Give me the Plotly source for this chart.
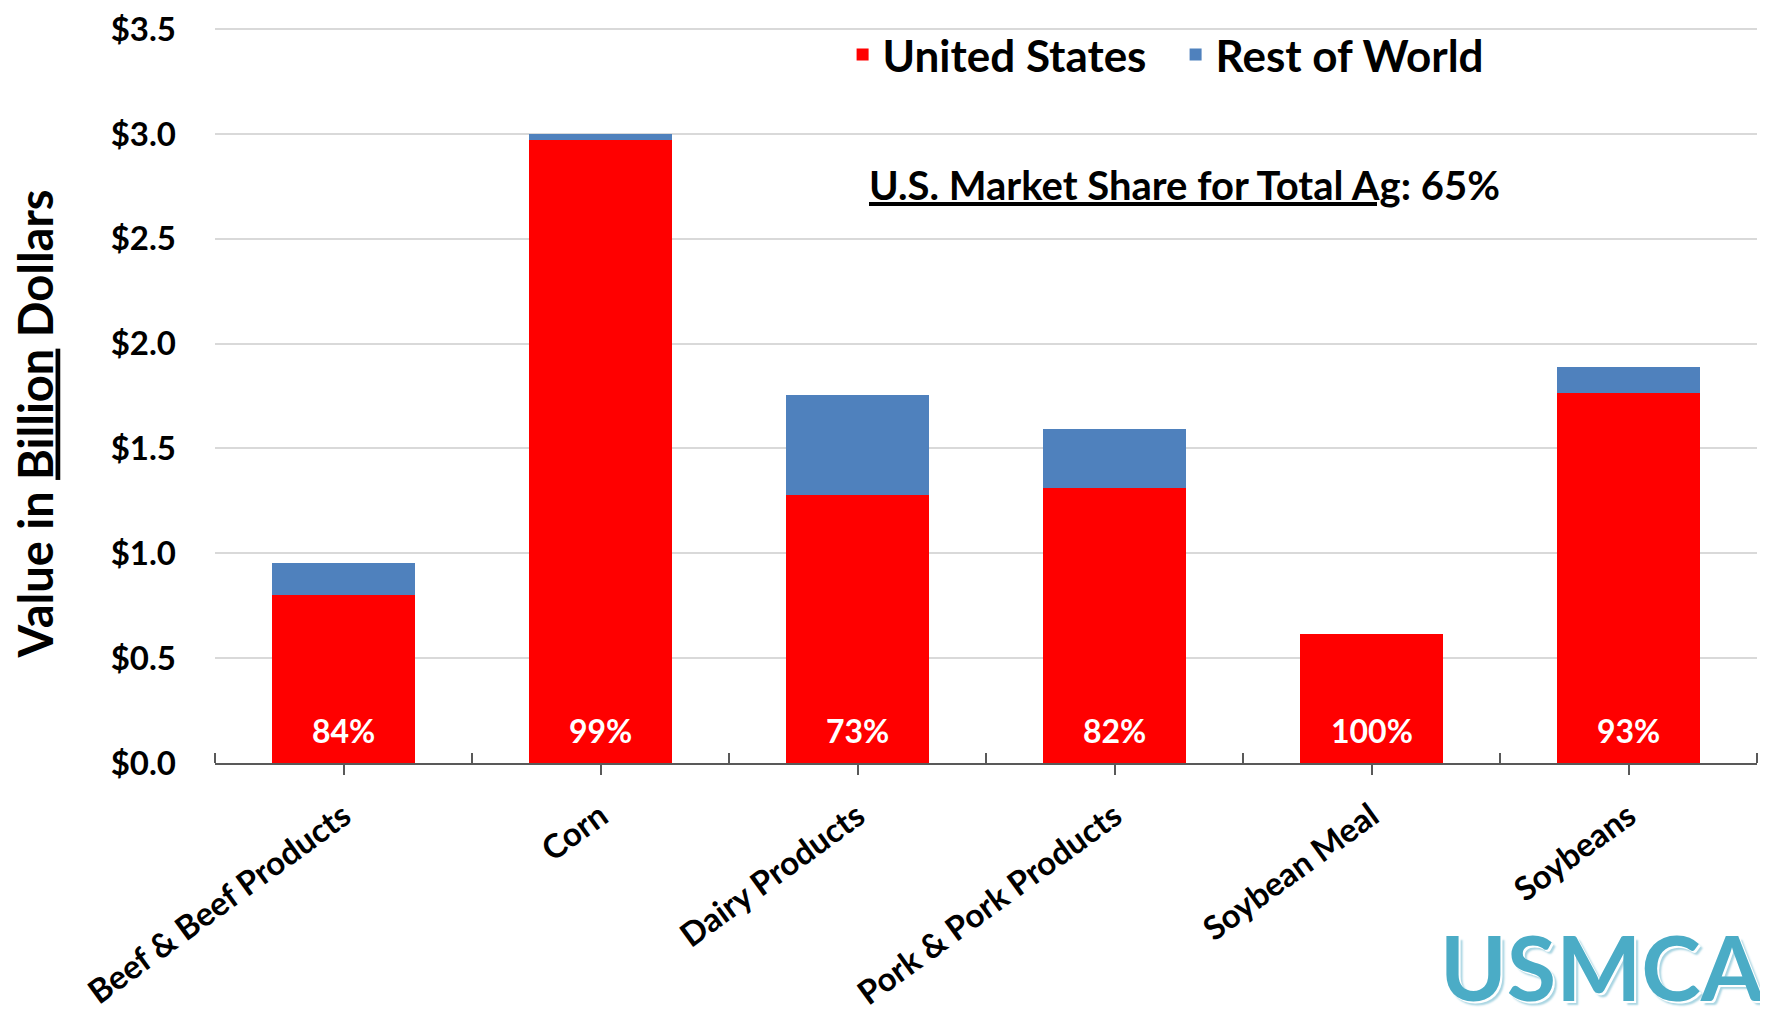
import plotly.graph_objects as go
import numpy as np

categories = ["Beef & Beef Products", "Corn", "Dairy Products",
              "Pork & Pork Products", "Soybean Meal", "Soybeans"]
us_values = [0.80, 2.97, 1.28, 1.31, 0.617, 1.765]
row_values = [0.155, 0.03, 0.475, 0.285, 0.0, 0.125]
us_share_labels = ["84%", "99%", "73%", "82%", "100%", "93%"]
y_tick_vals = [0.0, 0.5, 1.0, 1.5, 2.0, 2.5, 3.0, 3.5]
y_tick_text = ["$0.0", "$0.5", "$1.0", "$1.5", "$2.0", "$2.5", "$3.0", "$3.5"]

FONT = "Lato"
RED = "#FF0000"
BLUE = "#4F81BD"

x_pos = np.arange(len(categories))

fig = go.Figure()
fig.add_trace(go.Bar(x=x_pos, y=us_values, name="United States",
                     marker=dict(color=RED, line=dict(width=0))))
fig.add_trace(go.Bar(x=x_pos, y=row_values, name="Rest of World",
                     marker=dict(color=BLUE, line=dict(width=0))))

for xi, lab in zip(x_pos, us_share_labels):
    fig.add_annotation(x=xi, y=0, xref="x", yref="y", text=f"<b>{lab}</b>",
                       showarrow=False, yanchor="middle", yshift=33,
                       font=dict(family=FONT, size=32, color="white"))

fig.add_annotation(x=0.8346, y=0.785, xref="paper", yref="paper",
                   text="<b><u>U.S. Market Share for Total Ag</u>: 65%</b>",
                   showarrow=False, xanchor="right", yanchor="middle",
                   font=dict(family=FONT, size=40, color="black"))

# y-axis title
fig.add_annotation(x=0, y=0.46, xref="paper", yref="paper",
                   text="<b>Value in <u>Billion</u> Dollars</b>",
                   textangle=-90, showarrow=False,
                   xanchor="center", yanchor="middle", xshift=-180,
                   font=dict(family=FONT, size=47, color="black"))

fig.add_annotation(x=1.0, y=-0.276, xref="paper", yref="paper",
                   text="<b>USMCA</b>", showarrow=False,
                   xanchor="right", yanchor="middle", xshift=9,
                   font=dict(family=FONT, size=90, color="#4BACC6",
                             shadow="2px 2px 0px #ffffff, 4px 4px 2px #a9d5e2"))

fig.update_layout(
    width=1760, height=1011,
    margin=dict(l=207, r=11, t=19, b=256, autoexpand=False),
    paper_bgcolor="white", plot_bgcolor="white",
    barmode="stack", bargap=0.44,
    font=dict(family=FONT, color="black"),
    showlegend=True,
    legend=dict(orientation="h", x=0.407, y=0.962, xanchor="left",
                yanchor="middle", entrywidth=288,
                font=dict(family=FONT, size=44, color="black", weight="bold"),
                bgcolor="rgba(0,0,0,0)", traceorder="normal"),
)

fig.update_xaxes(
    range=[-0.5, len(categories) - 0.5],
    tickmode="array", tickvals=x_pos, ticktext=categories,
    tickangle=-36, ticks="outside", ticklen=10, tickwidth=2, tickcolor="#595959",
    ticklabelstandoff=9,
    tickfont=dict(family=FONT, size=33, color="black", weight="bold"),
    showline=True, linecolor="#595959", linewidth=2,
    showgrid=False, zeroline=False,
    minor=dict(tickmode="array", tickvals=list(np.arange(-0.5, len(categories), 1.0)),
               ticks="inside", ticklen=10, tickwidth=2, tickcolor="#595959",
               showgrid=False),
)

fig.update_yaxes(
    range=[0, 3.51], tickmode="array", tickvals=y_tick_vals, ticktext=y_tick_text,
    tickfont=dict(family=FONT, size=33, color="black", weight="bold"),
    ticklabeloverflow="allow",
    showgrid=True, gridcolor="#D9D9D9", gridwidth=1.5,
    showline=False, zeroline=False, ticks="", ticklabelstandoff=38,
)

fig.write_html("out.html")
